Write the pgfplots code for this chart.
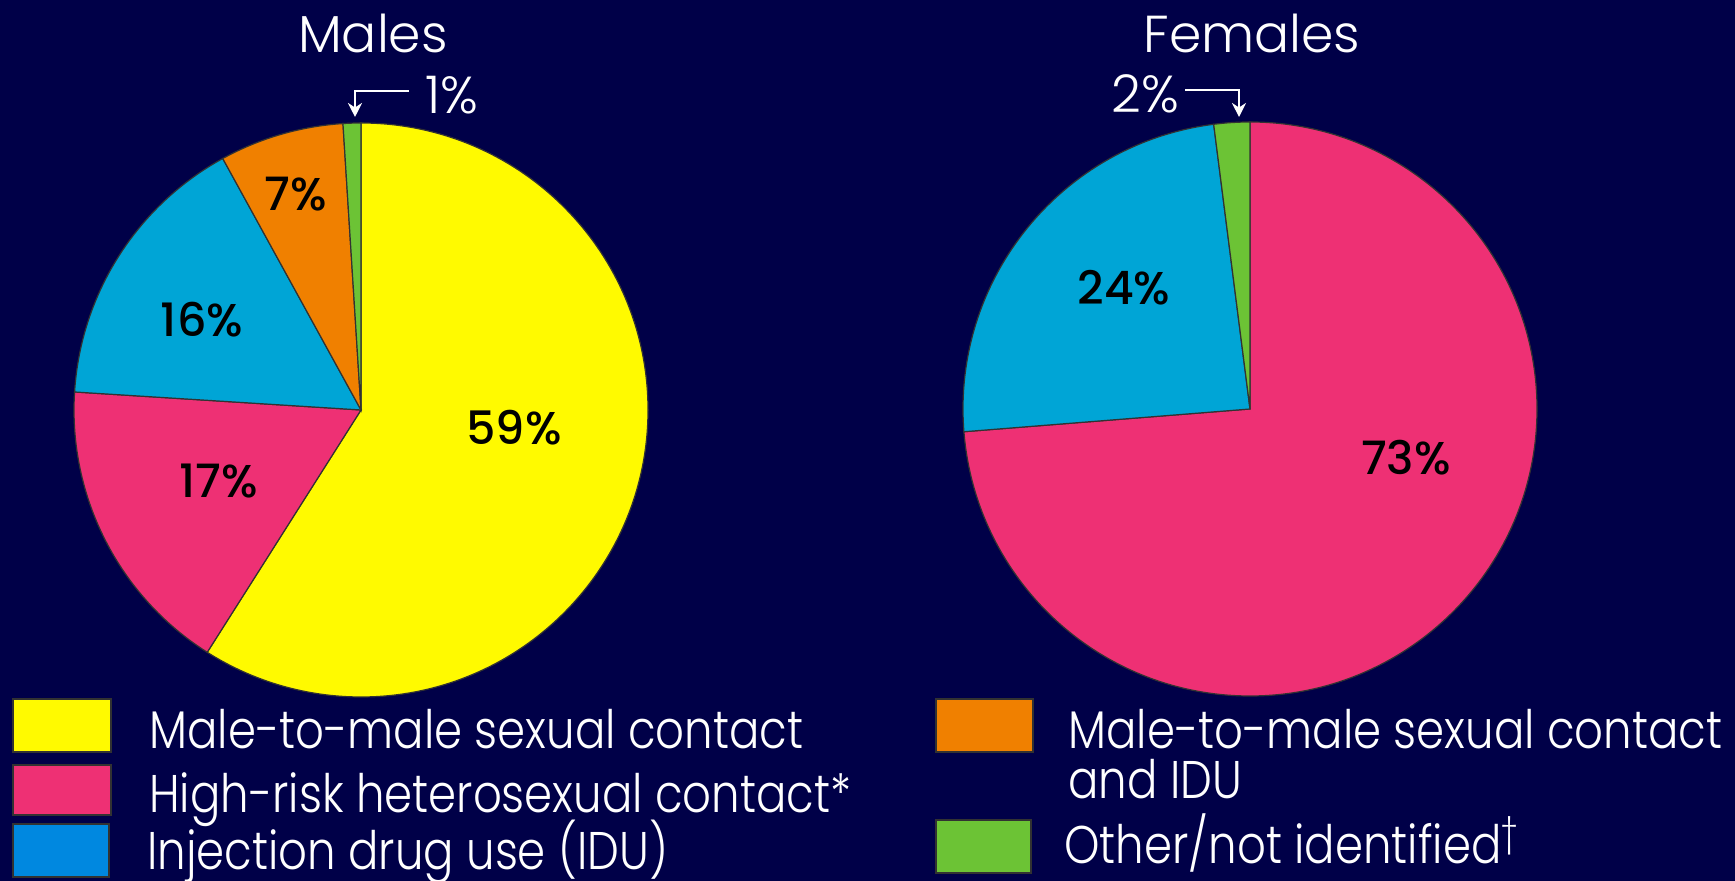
\documentclass[border=0pt]{standalone}
\usepackage{pgfplots}
\pgfplotsset{compat=1.18}
\usepackage{pgfplotstable}
\usetikzlibrary{arrows.meta}
\usepackage{fontspec}
\setmainfont{Poppins}[UprightFont=* Light, BoldFont=* Medium]
\newfontfamily\legfont{Poppins}[UprightFont=* Light, FakeStretch=0.85]
\newfontfamily\medfont{Poppins}[UprightFont=* Medium]

\definecolor{bg}{RGB}{0,0,72}
\definecolor{cyellow}{RGB}{255,250,0}
\definecolor{cpink}{RGB}{238,48,116}
\definecolor{cblue}{RGB}{0,165,214}
\definecolor{clegblue}{RGB}{0,136,224}
\definecolor{corange}{RGB}{240,128,0}
\definecolor{cgreen}{RGB}{108,195,53}
\definecolor{edgec}{RGB}{50,50,50}

\pgfplotstableread{
value color
59 cyellow
17 cpink
16 cblue
7 corange
1 cgreen
}\males

\pgfplotstableread{
value color
73 cpink
24 cblue
2 cgreen
}\females

% draw a pie from a table, centre (#2,#3) in axis units, radius #4
\newcommand\drawpie[4]{%
  \pgfplotstablegetrowsof{#1}%
  \pgfmathtruncatemacro\nrows{\pgfplotsretval-1}%
  \def\pietotal{0}%
  \pgfplotsforeachungrouped \i in {0,...,\nrows}{%
    \pgfplotstablegetelem{\i}{value}\of{#1}%
    \pgfmathsetmacro\pietotal{\pietotal+\pgfplotsretval}%
  }%
  \def\piecum{0}%
  \pgfplotsforeachungrouped \i in {0,...,\nrows}{%
    \pgfplotstablegetelem{\i}{value}\of{#1}\let\pieval\pgfplotsretval
    \pgfplotstablegetelem{\i}{color}\of{#1}\let\piecol\pgfplotsretval
    \pgfmathsetmacro\piesa{90-(\piecum/\pietotal)*360}%
    \pgfmathsetmacro\piecum{\piecum+\pieval}%
    \pgfmathsetmacro\piesb{90-(\piecum/\pietotal)*360}%
    \edef\piecmd{\noexpand\filldraw[fill=\piecol, draw=edgec, line width=0.6pt]
      (axis cs:#2,#3) -- ++(\piesa:#4) arc[start angle=\piesa, end angle=\piesb, radius=#4] -- cycle;}%
    \piecmd
  }%
}

\begin{document}
\begin{tikzpicture}
\begin{axis}[
  name=ax,
  width=867.5pt, height=440.5pt, scale only axis,
  xmin=0, xmax=1735, ymin=0, ymax=881,
  hide axis, clip=false,
]
\fill[bg] (axis cs:0,0) rectangle (axis cs:1735,881);

\drawpie{\males}{361}{471}{143.5pt}
\drawpie{\females}{1250}{472}{143.5pt}

% titles
\node[anchor=base, text=white, font=\fontsize{26}{28}\selectfont] at (axis cs:373,828) {Males};
\node[anchor=base, text=white, font=\fontsize{26}{28}\selectfont] at (axis cs:1252,828) {Females};

% inside labels
\begin{scope}[every node/.style={text=black, font=\medfont\fontsize{23}{24}\selectfont}]
\node at (axis cs:514,453) {59\%};
\node at (axis cs:219,400) {17\%};
\node at (axis cs:202,561) {16\%};
\node at (axis cs:296,687) {7\%};
\node at (axis cs:1124,593) {24\%};
\node at (axis cs:1406,423) {73\%};
\end{scope}

% outside labels with arrows
\node[text=white, font=\fontsize{26}{27}\selectfont] at (axis cs:452,786) {1\%};
\node[text=white, font=\fontsize{26}{27}\selectfont] at (axis cs:1145,787) {2\%};
\draw[white, line width=1pt, -{Stealth[length=7pt,width=7pt]}] (axis cs:409,790) -- (axis cs:355,790) -- (axis cs:355,764);
\draw[white, line width=1pt, -{Stealth[length=7pt,width=7pt]}] (axis cs:1185,791) -- (axis cs:1239,791) -- (axis cs:1239,764);

% legend
\begin{scope}[every node/.style={text=white, anchor=base west, font=\legfont\fontsize{26.5}{28}\selectfont, inner sep=0pt}]
\filldraw[fill=cyellow, draw=edgec, line width=0.6pt] (axis cs:13,182) rectangle (axis cs:111,129);
\filldraw[fill=cpink, draw=edgec, line width=0.6pt] (axis cs:13,116) rectangle (axis cs:111,66);
\filldraw[fill=clegblue, draw=edgec, line width=0.6pt] (axis cs:13,57) rectangle (axis cs:109,4);
\filldraw[fill=corange, draw=edgec, line width=0.6pt] (axis cs:936,182) rectangle (axis cs:1033,129);
\filldraw[fill=cgreen, draw=edgec, line width=0.6pt] (axis cs:936,61) rectangle (axis cs:1031,8);
\node at (axis cs:149,132) {Male-to-male sexual contact};
\node at (axis cs:149,68) {High-risk heterosexual contact*};
\node at (axis cs:147,11) {Injection drug use (IDU)};
\node at (axis cs:1068,132) {Male-to-male sexual contact};
\node at (axis cs:1068,82) {and IDU};
\node at (axis cs:1064,17) {Other/not identified\textsuperscript{\dag}};
\end{scope}
\end{axis}
\pgfresetboundingbox
\path (ax.south west) rectangle (ax.north east);
\end{tikzpicture}
\end{document}
